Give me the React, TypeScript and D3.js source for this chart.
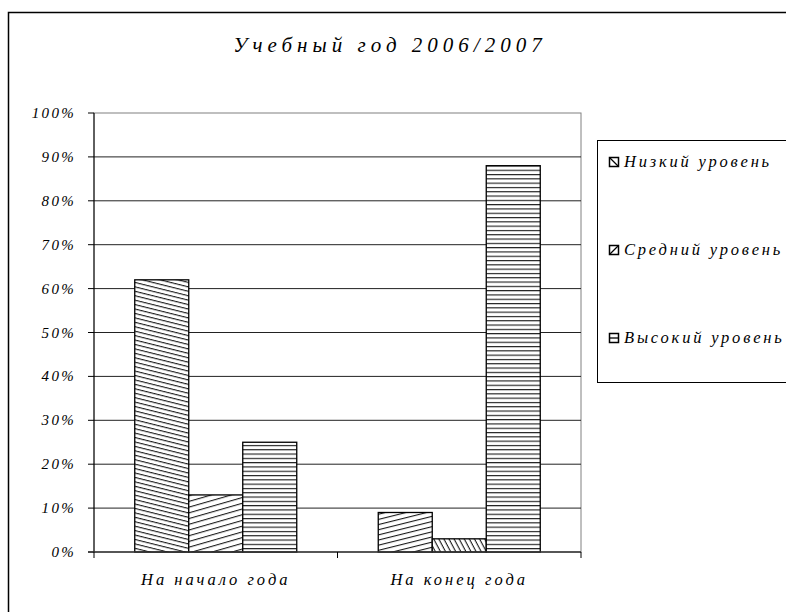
import React from "react";
import * as d3 from "d3";

const title = "Учебный год 2006/2007";
const categories = ["На начало года", "На конец года"];
const seriesNames = ["Низкий уровень", "Средний уровень", "Высокий уровень"];
const lowValues = [62, 9];
const midValues = [13, 3];
const highValues = [25, 88];
const yTicks = [0, 10, 20, 30, 40, 50, 60, 70, 80, 90, 100];

const seriesValues = [lowValues, midValues, highValues];
// pattern per [series][category] (Excel per-point formatting)
const patternIds = [
  ["pDownShallow", "pUpShallow"],
  ["pUpShallow2", "pDownSteep"],
  ["pHoriz", "pHoriz"],
];

const W = 786, H = 612;
const plot = { left: 94, right: 581, top: 113, bottom: 552 };
const font = "'Liberation Serif', 'DejaVu Serif', serif";

export default function App() {
  const x0 = d3.scaleBand<string>().domain(categories).range([plot.left, plot.right]).paddingInner(0).paddingOuter(0);
  const inner = 54;
  const groupW = inner * 3;
  const y = d3.scaleLinear().domain([0, 100]).range([plot.bottom, plot.top]);
  const x1 = d3.scaleBand<number>().domain([0, 1, 2]).range([0, groupW]).padding(0);

  const legendY = [162, 250, 338];

  return (
    <svg width={W} height={H} style={{ position: "absolute", left: 0, top: 0, background: "#fff" }}>
      <defs>
        <pattern id="pHoriz" width="8" height="4.3" patternUnits="userSpaceOnUse" patternTransform="translate(0,2)">
          <rect width="8" height="4.3" fill="#fff" />
          <line x1="0" y1="0.6" x2="8" y2="0.6" stroke="#000" strokeWidth="1" />
        </pattern>
        <pattern id="pDownShallow" width="10" height="4.3" patternUnits="userSpaceOnUse" patternTransform="rotate(14)">
          <rect width="10" height="4.3" fill="#fff" />
          <line x1="0" y1="0.6" x2="10" y2="0.6" stroke="#000" strokeWidth="1" />
        </pattern>
        <pattern id="pUpShallow" width="10" height="5" patternUnits="userSpaceOnUse" patternTransform="rotate(-14)">
          <rect width="10" height="5" fill="#fff" />
          <line x1="0" y1="0.6" x2="10" y2="0.6" stroke="#000" strokeWidth="1" />
        </pattern>
        <pattern id="pUpShallow2" width="10" height="5.5" patternUnits="userSpaceOnUse" patternTransform="rotate(-16)">
          <rect width="10" height="5.5" fill="#fff" />
          <line x1="0" y1="0.6" x2="10" y2="0.6" stroke="#000" strokeWidth="1" />
        </pattern>
        <pattern id="pDownSteep" width="10" height="4.5" patternUnits="userSpaceOnUse" patternTransform="rotate(62)">
          <rect width="10" height="4.5" fill="#fff" />
          <line x1="0" y1="0.6" x2="10" y2="0.6" stroke="#000" strokeWidth="1" />
        </pattern>
      </defs>

      {/* outer chart frame */}
      <rect x={8.5} y={12.5} width={W} height={H} fill="none" stroke="#000" strokeWidth={1.5} />

      {/* title */}
      <text x={390} y={52} textAnchor="middle" fontFamily={font} fontStyle="italic" fontSize={21} letterSpacing={5}>
        {title}
      </text>

      {/* plot area border */}
      <rect x={plot.left} y={plot.top} width={plot.right - plot.left} height={plot.bottom - plot.top} fill="none" stroke="#808080" strokeWidth={1} />

      {/* gridlines */}
      {yTicks.filter((t) => t > 0 && t < 100).map((t) => (
        <line key={t} x1={plot.left} x2={plot.right} y1={y(t)} y2={y(t)} stroke="#222" strokeWidth={1} />
      ))}

      {/* bars */}
      {seriesValues.map((vals, s) =>
        vals.map((v, c) => {
          const gx = (x0(categories[c]) as number) + (x0.bandwidth() - groupW) / 2;
          const bx = gx + (x1(s) as number);
          return (
            <rect key={`${s}-${c}`} x={bx} y={y(v)} width={x1.bandwidth()} height={y(0) - y(v)}
              fill={`url(#${patternIds[s][c]})`} stroke="#000" strokeWidth={1.3} />
          );
        })
      )}

      {/* y axis */}
      <line x1={plot.left} x2={plot.left} y1={plot.top} y2={plot.bottom} stroke="#000" strokeWidth={1} />
      {yTicks.map((t) => (
        <g key={t}>
          <line x1={plot.left - 6} x2={plot.left} y1={y(t)} y2={y(t)} stroke="#000" />
          <text x={76} y={y(t) + 5} textAnchor="end" fontFamily={font} fontStyle="italic" fontSize={15} letterSpacing={2.3}>
            {`${t}%`}
          </text>
        </g>
      ))}

      {/* x axis */}
      <line x1={plot.left - 6} x2={plot.right} y1={plot.bottom} y2={plot.bottom} stroke="#333" strokeWidth={1.5} />
      {[...categories.map((c) => x0(c) as number), plot.right].map((xx, i) => (
        <line key={i} x1={xx} x2={xx} y1={plot.bottom} y2={plot.bottom + 6} stroke="#000" />
      ))}
      {categories.map((c) => (
        <text key={c} x={(x0(c) as number) + x0.bandwidth() / 2} y={585} textAnchor="middle" fontFamily={font} fontStyle="italic" fontSize={16.5} letterSpacing={3}>
          {c}
        </text>
      ))}

      {/* legend */}
      <rect x={597.5} y={140.5} width={200} height={242} fill="#fff" stroke="#000" strokeWidth={1} />
      {seriesNames.map((n, i) => (
        <g key={n}>
          <rect x={609.5} y={legendY[i] - 4.5} width={9} height={9} fill="#fff" stroke="#000" strokeWidth={1.5} />
          {i === 0 && <line x1={609.5} y1={legendY[i] - 4.5} x2={618.5} y2={legendY[i] + 4.5} stroke="#000" strokeWidth={1.3} />}
          {i === 1 && <line x1={609.5} y1={legendY[i] + 4.5} x2={618.5} y2={legendY[i] - 4.5} stroke="#000" strokeWidth={1.3} />}
          {i === 2 && <line x1={609.5} y1={legendY[i]} x2={618.5} y2={legendY[i]} stroke="#000" strokeWidth={1.3} />}
          <text x={624} y={legendY[i] + 5} fontFamily={font} fontStyle="italic" fontSize={16.5} letterSpacing={2.8}>
            {n}
          </text>
        </g>
      ))}
    </svg>
  );
}
